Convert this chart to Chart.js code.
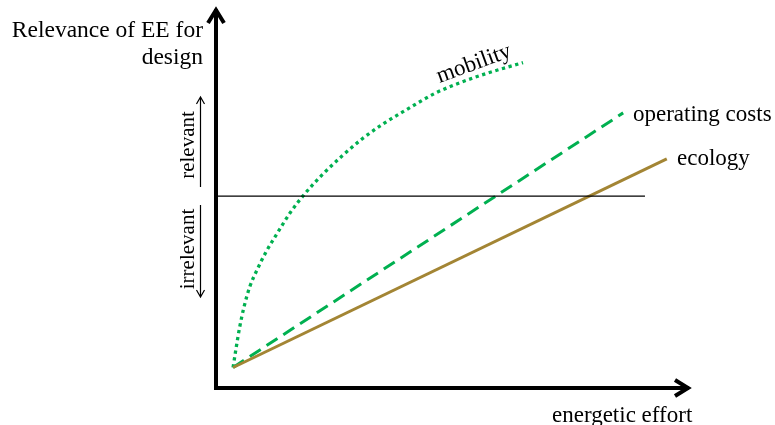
<!DOCTYPE html>
<html>
<head>
<meta charset="utf-8">
<script src="https://cdn.jsdelivr.net/npm/chart.js@4"></script>
<style>
  html, body { margin: 0; padding: 0; background: #fff; }
  #wrap { width: 775px; height: 425px; }
</style>
</head>
<body>
<div id="wrap"><canvas id="c" width="775" height="425"></canvas></div>
<script>
// Energetic effort (x) vs relevance for design (y), abstract units 0..100
const mobilityX = [3.6, 4.28, 5.0, 5.91, 7.11, 8.65, 10.55, 13.08, 15.61, 18.78, 22.57, 26.58, 30.8, 35.23, 40.08, 46.2, 51.48, 57.17, 63.08, 64.77];
const mobilityY = [5.4, 10.79, 16.05, 21.32, 26.58, 31.05, 35.79, 41.05, 46.05, 51.18, 56.32, 61.05, 65.53, 69.47, 73.16, 77.55, 80.34, 82.82, 85.0, 85.61];
const operatingX = [3.6, 85.9];
const operatingY = [5.4, 72.4];
const ecologyX = [3.6, 95.1];
const ecologyY = [5.4, 60.3];
const thresholdX = [0, 90.5];
const thresholdY = [50.5, 50.5];

const seriesLabels = ['mobility', 'operating costs', 'ecology'];
const yTitle = ['Relevance of EE for', 'design'];
const xTitle = 'energetic effort';
const zoneLabels = ['relevant', 'irrelevant'];

const GREEN = '#00b050';
const GOLD = '#a38534';
const FONT = '"Liberation Serif", "Times New Roman", serif';

const pts = (xs, ys) => xs.map((x, i) => ({ x: x, y: ys[i] }));

const decorPlugin = {
  id: 'decor',
  afterDraw(chart) {
    const ctx = chart.ctx;
    const xs = chart.scales.x, ys = chart.scales.y;
    const x0 = xs.getPixelForValue(0), y0 = ys.getPixelForValue(0);
    const xEnd = xs.getPixelForValue(100), yEnd = ys.getPixelForValue(100);
    ctx.save();
    ctx.strokeStyle = '#000';
    ctx.lineWidth = 4;
    ctx.lineJoin = 'miter';
    ctx.lineCap = 'butt';
    // y axis
    ctx.beginPath();
    ctx.moveTo(x0, y0 + 2);
    ctx.lineTo(x0, yEnd + 1);
    ctx.stroke();
    ctx.beginPath();
    ctx.moveTo(x0 - 8, yEnd + 15);
    ctx.lineTo(x0, yEnd + 2);
    ctx.lineTo(x0 + 8, yEnd + 15);
    ctx.stroke();
    // x axis
    ctx.beginPath();
    ctx.moveTo(x0 - 2, y0);
    ctx.lineTo(xEnd - 1, y0);
    ctx.stroke();
    ctx.beginPath();
    ctx.moveTo(xEnd - 15, y0 - 8);
    ctx.lineTo(xEnd - 2, y0);
    ctx.lineTo(xEnd - 15, y0 + 8);
    ctx.stroke();

    // zone arrows
    ctx.lineWidth = 1.2;
    const ax = 200.5;
    ctx.beginPath();
    ctx.moveTo(ax, 187); ctx.lineTo(ax, 97);
    ctx.moveTo(ax - 4, 104); ctx.lineTo(ax, 97); ctx.lineTo(ax + 4, 104);
    ctx.stroke();
    ctx.beginPath();
    ctx.moveTo(ax, 205); ctx.lineTo(ax, 297);
    ctx.moveTo(ax - 4, 290); ctx.lineTo(ax, 297); ctx.lineTo(ax + 4, 290);
    ctx.stroke();

    // texts
    ctx.fillStyle = '#000';
    ctx.font = '23.5px ' + FONT;
    ctx.textBaseline = 'alphabetic';
    ctx.textAlign = 'right';
    ctx.fillText(yTitle[0], 203, 37);
    ctx.fillText(yTitle[1], 203, 64);
    ctx.font = '23px ' + FONT;
    ctx.textAlign = 'left';
    ctx.fillText(xTitle, 552, 422);
    ctx.fillText(seriesLabels[1], 633, 121);
    ctx.fillText(seriesLabels[2], 677, 165);

    ctx.save();
    ctx.translate(474, 64);
    ctx.rotate(-20 * Math.PI / 180);
    ctx.textAlign = 'center';
    ctx.fillText(seriesLabels[0], 0, 6);
    ctx.restore();

    ctx.font = '21px ' + FONT;
    ctx.textAlign = 'center';
    ctx.save();
    ctx.translate(194, 145);
    ctx.rotate(-Math.PI / 2);
    ctx.fillText(zoneLabels[0], 0, 0);
    ctx.restore();
    ctx.save();
    ctx.translate(194, 249);
    ctx.rotate(-Math.PI / 2);
    ctx.fillText(zoneLabels[1], 0, 0);
    ctx.restore();
    ctx.restore();
  }
};

new Chart(document.getElementById('c'), {
  type: 'line',
  data: {
    datasets: [
      {
        label: 'threshold',
        data: pts(thresholdX, thresholdY),
        borderColor: '#000',
        borderWidth: 1.3,
        pointRadius: 0,
        tension: 0
      },
      {
        label: seriesLabels[2],
        data: pts(ecologyX, ecologyY),
        borderColor: GOLD,
        borderWidth: 3,
        pointRadius: 0,
        tension: 0
      },
      {
        label: seriesLabels[1],
        data: pts(operatingX, operatingY),
        borderColor: GREEN,
        borderWidth: 3,
        borderDash: [13, 7],
        pointRadius: 0,
        tension: 0
      },
      {
        label: seriesLabels[0],
        data: pts(mobilityX, mobilityY),
        borderColor: GREEN,
        borderWidth: 3.3,
        borderDash: [3.3, 3.6],
        pointRadius: 0,
        cubicInterpolationMode: 'monotone'
      }
    ]
  },
  options: {
    responsive: false,
    animation: false,
    events: [],
    layout: { padding: { left: 216, right: 85, top: 8, bottom: 37 } },
    plugins: { legend: { display: false }, tooltip: { enabled: false } },
    scales: {
      x: { type: 'linear', min: 0, max: 100, display: false },
      y: { type: 'linear', min: 0, max: 100, display: false }
    },
    clip: false
  },
  plugins: [decorPlugin]
});
</script>
</body>
</html>
